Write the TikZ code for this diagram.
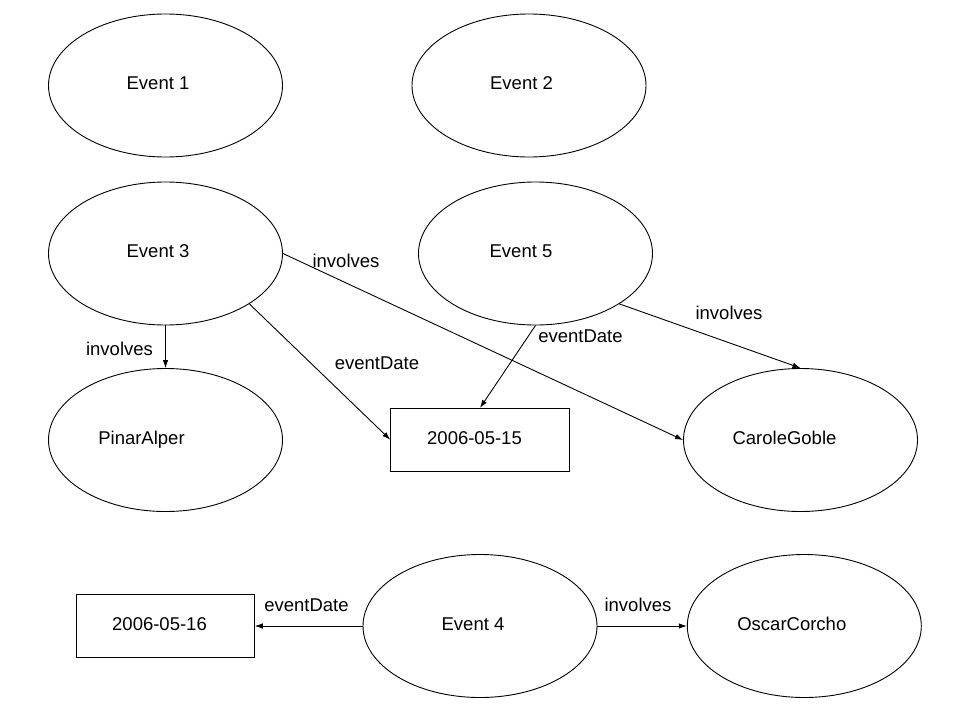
\documentclass[tikz,border=0pt]{standalone}
\usepackage{fontspec}
\setmainfont{Liberation Sans}
\usetikzlibrary{shapes.geometric,arrows.meta}

\tikzset{
  base/.style={font=\fontsize{18.5}{22}\selectfont, text depth=0pt, inner sep=0pt},
  boxed/.style={base, draw, line width=0.9pt, text depth=4pt},
  entity/.style={boxed, ellipse, minimum width=234pt, minimum height=143pt},
  literal/.style={boxed, rectangle},
  nudge/.style={execute at begin node={\hspace*{#1}}},
  edgelabel/.style={base},
  rel/.style={line width=0.9pt, -{Latex[length=8pt,width=5.5pt]}}
}

\begin{document}
\begin{tikzpicture}[x=1pt,y=-1pt]
  \useasboundingbox (0,0) rectangle (960,720);

  % resources
  \node[entity, nudge=-15pt] (e1) at (165.5,85.5) {Event 1};
  \node[entity, nudge=-15pt] (e2) at (529,85.5) {Event 2};
  \node[entity, nudge=-15pt] (e3) at (165.5,253.5) {Event 3};
  \node[entity, nudge=-29pt] (e5) at (535.5,253.5) {Event 5};
  \node[entity, nudge=-48pt] (pinar) at (165.5,440) {PinarAlper};
  \node[entity, nudge=-32pt] (carole) at (800.5,440) {CaroleGoble};
  \node[entity, nudge=-14pt] (e4) at (480,626) {Event 4};
  \node[entity, nudge=-25pt] (oscar) at (804.3,626) {OscarCorcho};

  % date literals
  \node[literal, minimum width=178.6pt, minimum height=62.7pt, nudge=-11pt] (d15) at (480,439.7) {2006-05-15};
  \node[literal, minimum width=177.6pt, minimum height=62.3pt, nudge=-12pt] (d16) at (165.5,626) {2006-05-16};

  % properties
  \draw[rel] (e3.south) -- (pinar.north);
  \draw[rel] (e3.-31.5) -- (d15.west);
  \draw[rel] (e3.east) -- (carole.west);
  \draw[rel] (e5.south) -- (d15.north);
  \draw[rel] (e5.-31) -- (carole.north);
  \draw[rel] (e4.west) -- (d16.east);
  \draw[rel] (e4.east) -- (oscar.west);

  % property names
  \node[edgelabel] (l1) at (119.5,349) {involves};
  \node[edgelabel] (l2) at (377,363) {eventDate};
  \node[edgelabel] (l3) at (346,261) {involves};
  \node[edgelabel] (l4) at (580.5,336) {eventDate};
  \node[edgelabel] (l5) at (729,313) {involves};
  \node[edgelabel] (l6) at (306.5,605) {eventDate};
  \node[edgelabel] (l7) at (638,605) {involves};
\end{tikzpicture}
\end{document}
